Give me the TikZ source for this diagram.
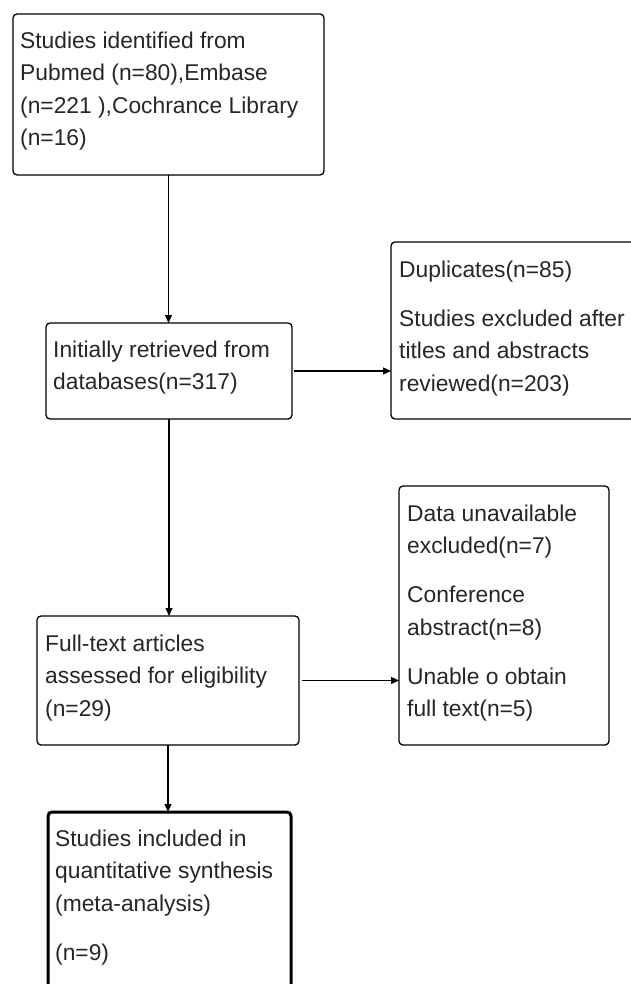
\documentclass[tikz,border=0pt]{standalone}
\usepackage{fontspec}
\setmainfont{Liberation Sans}
\usetikzlibrary{arrows.meta,calc}
\newcommand\fstrut{\rule{0pt}{20pt}}
\begin{document}
\begin{tikzpicture}[x=1pt,y=-1pt,
  box/.style={draw=black,line width=1.3pt,rounded corners=4pt,inner sep=0pt,outer sep=0pt,anchor=north west},
  thickbox/.style={box,line width=3pt},
  txt/.style={anchor=north west,inner sep=0pt,align=left,text=black!85,
    font=\fontsize{22.8}{32.5}\selectfont},
  arr/.style={draw=black,line width=1.3pt,-{Triangle[length=8pt,width=7pt]}}]
\useasboundingbox (0,0) rectangle (630,984);
% boxes
\node[box,minimum width=311pt,minimum height=161pt] (b1) at (13,14) {};
\node[box,minimum width=246pt,minimum height=96pt] (b2) at (46,323) {};
\node[box,minimum width=260pt,minimum height=177pt] (b6) at (391,242) {};
\node[box,minimum width=262pt,minimum height=129pt] (b3) at (37,616) {};
\node[box,minimum width=210pt,minimum height=259pt] (b4) at (399,486) {};
\node[thickbox,minimum width=243pt,minimum height=200pt] (b5) at (48,812) {};
% texts
\node[txt] (t1) at ($(b1.north west)+(7,14)$) {\fstrut Studies identified from\\Pubmed (n=80),Embase\\(n=221 ),Cochrance Library\\(n=16)};
\node[txt] (t2) at ($(b2.north west)+(7,14)$) {\fstrut Initially retrieved from\\databases(n=317)};
\node[txt] (t6) at ($(b6.north west)+(8,15)$) {\fstrut Duplicates(n=85)\\[16.5pt]Studies excluded after\\titles and abstracts\\reviewed(n=203)};
\node[txt] (t3) at ($(b3.north west)+(8,15)$) {\fstrut Full-text articles\\assessed for eligibility\\(n=29)};
\node[txt] (t4) at ($(b4.north west)+(8,15)$) {\fstrut Data unavailable\\excluded(n=7)\\[16.5pt]Conference\\abstract(n=8)\\[16.5pt]Unable o obtain\\full text(n=5)};
\node[txt] (t5) at ($(b5.north west)+(7,14)$) {\fstrut Studies included in\\quantitative synthesis\\(meta-analysis)\\[17pt](n=9)};
% connectors
\draw[arr] (b1.south) -- (b1.south |- b2.north);
\draw[arr] (b2.south) -- (b2.south |- b3.north);
\draw[arr] (b3.south) -- (b3.south |- b5.north);
\draw[arr,shorten <=2pt] (b2.east) -- (b2.east -| b6.west);
\draw[arr,shorten <=3pt] (b3.east) -- (b3.east -| b4.west);
\end{tikzpicture}
\end{document}
